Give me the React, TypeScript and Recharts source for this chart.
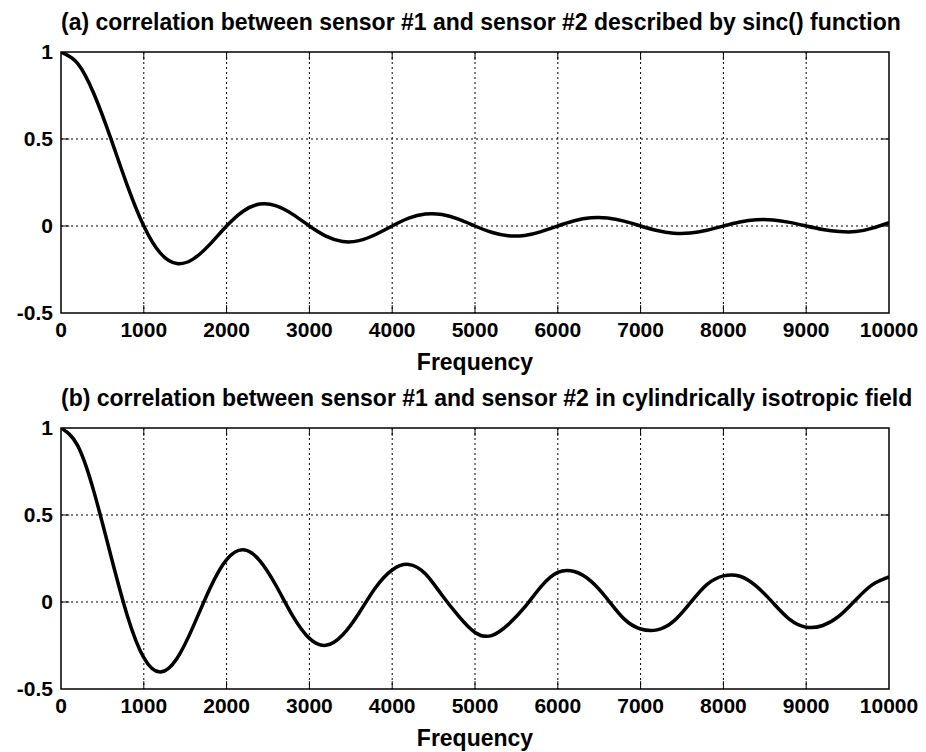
import React from "react"
import {
  LineChart, Line, XAxis, YAxis, CartesianGrid, ReferenceArea, ReferenceLine,
} from "recharts"

// frequency grid, every 200 Hz
const FREQS: number[] = [
  0, 200, 400, 600, 800, 1000, 1200, 1400, 1600, 1800,
  2000, 2200, 2400, 2600, 2800, 3000, 3200, 3400, 3600, 3800,
  4000, 4200, 4400, 4600, 4800, 5000, 5200, 5400, 5600, 5800,
  6000, 6200, 6400, 6600, 6800, 7000, 7200, 7400, 7600, 7800,
  8000, 8200, 8400, 8600, 8800, 9000, 9200, 9400, 9600, 9800,
  10000,
]

// (a) sinc() correlation
const SINC_VALUES: number[] = [
  1, 0.935, 0.757, 0.505, 0.234, 0, -0.156, -0.216, -0.189, -0.104,
  0, 0.085, 0.126, 0.116, 0.067, 0, -0.058, -0.089, -0.084, -0.049,
  0, 0.045, 0.069, 0.066, 0.039, 0, -0.036, -0.056, -0.054, -0.032,
  0, 0.03, 0.047, 0.046, 0.028, 0, -0.026, -0.041, -0.04, -0.024,
  0, 0.023, 0.036, 0.035, 0.021, 0, -0.02, -0.032, -0.032, -0.012,
  0.02,
]

// (b) cylindrically isotropic field correlation
const CYL_VALUES: number[] = [
  1, 0.9, 0.63, 0.27, -0.077, -0.32, -0.403, -0.325, -0.137, 0.079,
  0.243, 0.3, 0.238, 0.092, -0.081, -0.209, -0.249, -0.19, -0.063, 0.083,
  0.184, 0.216, 0.162, 0.04, -0.08, -0.175, -0.193, -0.13, -0.03, 0.09,
  0.17, 0.175, 0.12, 0.016, -0.097, -0.155, -0.16, -0.11, -0.005, 0.1,
  0.15, 0.148, 0.09, -0.005, -0.1, -0.145, -0.135, -0.08, 0.013, 0.1,
  0.145,
]

const X_TICKS = [0, 1000, 2000, 3000, 4000, 5000, 6000, 7000, 8000, 9000, 10000]
const Y_TICKS = [-0.5, 0, 0.5, 1]

const TITLES = [
  "(a) correlation between sensor #1 and sensor #2 described by sinc() function",
  "(b) correlation between sensor #1 and sensor #2 in cylindrically isotropic field",
]

const FONT = '"Liberation Sans", Arial, Helvetica, sans-serif'

// inward tick mark lengths, in data units
const X_TICK_LEN = 0.045
const Y_TICK_LEN = 100

function Panel({ values, title, top, labelOffset }: {
  values: number[]; title: string; top: number; labelOffset: number
}) {
  const data = FREQS.map((f, i) => ({ f, v: values[i] }))
  return (
    <div style={{ position: "absolute", left: 0, top, width: 926, height: 376 }}>
      <div style={{
        position: "absolute", left: 61, top: 10, width: 828, textAlign: "center",
        fontFamily: FONT, fontWeight: "bold", fontSize: 23, lineHeight: "24px",
        color: "#000", whiteSpace: "nowrap",
      }}>
        {title}
      </div>
      <LineChart width={926} height={376} data={data}
        margin={{ top: 52, right: 37, left: 0, bottom: 0 }}>
        <CartesianGrid stroke="#000" strokeDasharray="2 3" strokeWidth={1}
          horizontalValues={[0, 0.5]} verticalValues={X_TICKS.slice(1, -1)} />
        {X_TICKS.slice(1, -1).map((t) => (
          <ReferenceLine key={"b" + t} segment={[{ x: t, y: -0.5 }, { x: t, y: -0.5 + X_TICK_LEN }]}
            stroke="#000" strokeWidth={1} />
        ))}
        {X_TICKS.slice(1, -1).map((t) => (
          <ReferenceLine key={"t" + t} segment={[{ x: t, y: 1 }, { x: t, y: 1 - X_TICK_LEN }]}
            stroke="#000" strokeWidth={1} />
        ))}
        {[0, 0.5].map((t) => (
          <ReferenceLine key={"l" + t} segment={[{ x: 0, y: t }, { x: Y_TICK_LEN, y: t }]}
            stroke="#000" strokeWidth={1} />
        ))}
        {[0, 0.5].map((t) => (
          <ReferenceLine key={"r" + t} segment={[{ x: 10000 - Y_TICK_LEN, y: t }, { x: 10000, y: t }]}
            stroke="#000" strokeWidth={1} />
        ))}
        <ReferenceArea x1={0} x2={10000} y1={-0.5} y2={1} fill="none"
          stroke="#000" strokeWidth={1.5} fillOpacity={0} />
        <XAxis dataKey="f" type="number" domain={[0, 10000]} ticks={X_TICKS}
          height={63} tickLine={false} axisLine={false} tickSize={6} tickMargin={3}
          interval={0} allowDataOverflow
          tick={{ fill: "#000", fontSize: 21, fontWeight: "bold", fontFamily: FONT }}
          label={{ value: "Frequency", position: "insideBottom", offset: labelOffset,
            fill: "#000", fontSize: 23, fontWeight: "bold", fontFamily: FONT }} />
        <YAxis type="number" domain={[-0.5, 1]} ticks={Y_TICKS} width={61}
          tickLine={false} axisLine={false} interval={0} allowDataOverflow
          tick={{ fill: "#000", fontSize: 21, fontWeight: "bold", fontFamily: FONT }} />
        <Line type="natural" dataKey="v" stroke="#000" strokeWidth={3.5}
          dot={false} activeDot={false} isAnimationActive={false} />
      </LineChart>
    </div>
  )
}

export default function App() {
  return (
    <div style={{ position: "absolute", left: 0, top: 0, width: 926, height: 752, background: "#fff" }}>
      <Panel values={SINC_VALUES} title={TITLES[0]} top={0} labelOffset={6} />
      <Panel values={CYL_VALUES} title={TITLES[1]} top={376} labelOffset={6} />
    </div>
  )
}
